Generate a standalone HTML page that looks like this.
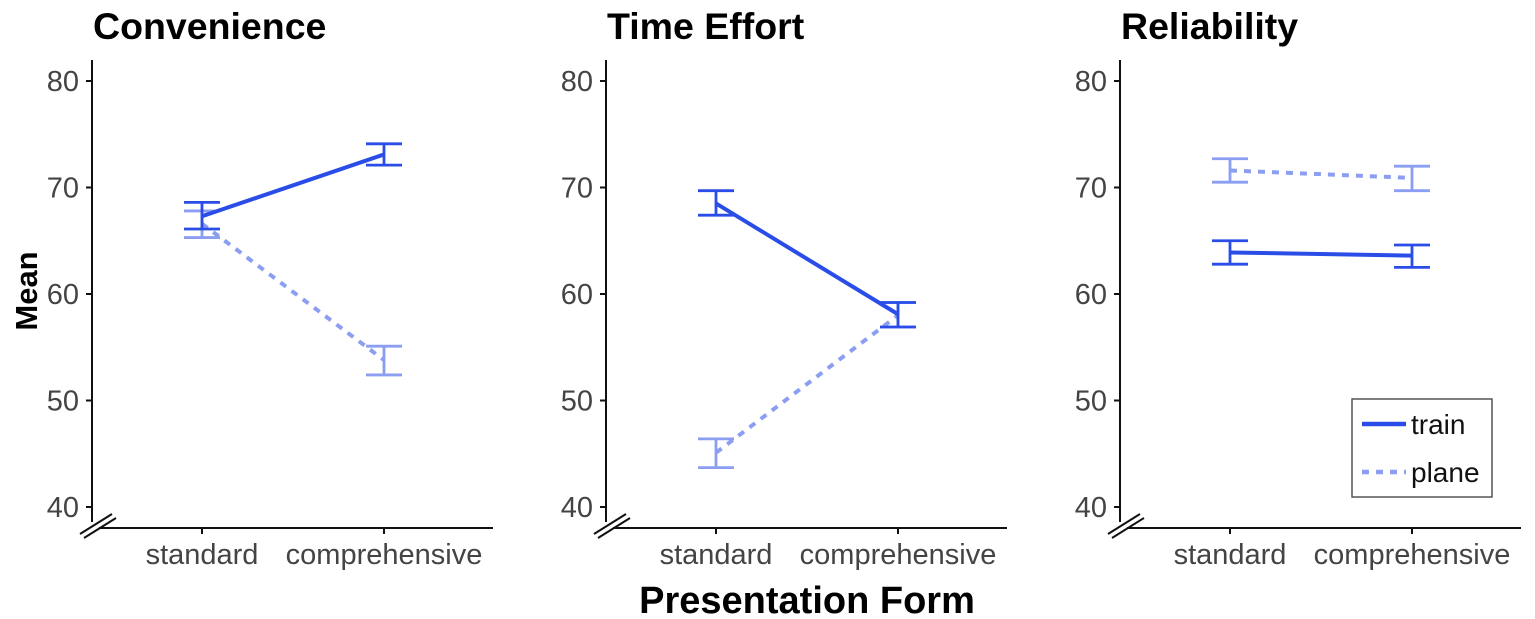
<!DOCTYPE html>
<html><head><meta charset="utf-8"><style>
html,body{margin:0;padding:0;background:#fff;}
svg{display:block;font-family:"Liberation Sans",Arial,sans-serif;}
</style></head><body>
<svg id="chart" width="1535" height="619" viewBox="0 0 1535 619">
<text x="807" y="613" font-size="38" font-weight="bold" text-anchor="middle" fill="#000">Presentation Form</text>
<text transform="translate(37,291) rotate(-90)" font-size="31" font-weight="bold" text-anchor="middle" fill="#000">Mean</text>
<g id="legend">
<rect x="1352" y="399" width="140" height="98" fill="#fff" stroke="#555" stroke-width="1.5"/>
<line x1="1362" y1="424" x2="1406" y2="424" stroke="#2a4de8" stroke-width="4.5"/>
<text x="1411" y="434" font-size="28" fill="#111">train</text>
<line x1="1362" y1="472" x2="1406" y2="472" stroke="#8c9ef2" stroke-width="4.5" stroke-dasharray="7,7"/>
<text x="1411" y="482" font-size="28" fill="#111">plane</text>
</g>
</svg>
<script>
const panelTitles = ["Convenience", "Time Effort", "Reliability"];
const categories = ["standard", "comprehensive"];
const yTicks = [40, 50, 60, 70, 80];
const trainMean = [[67.3, 73.1], [68.5, 58.1], [63.9, 63.6]];
const trainLow  = [[66.1, 72.1], [67.4, 56.9], [62.8, 62.5]];
const trainHigh = [[68.6, 74.1], [69.7, 59.2], [65.0, 64.6]];
const planeMean = [[66.6, 53.8], [45.1, 58.0], [71.6, 70.9]];
const planeLow  = [[65.3, 52.4], [43.7, 56.9], [70.5, 69.7]];
const planeHigh = [[67.8, 55.1], [46.4, 59.2], [72.7, 72.0]];

const svg = document.getElementById('chart');
const NS = 'http://www.w3.org/2000/svg';
function mk(tag, attrs, parent) {
  const e = document.createElementNS(NS, tag);
  for (const k in attrs) e.setAttribute(k, attrs[k]);
  (parent || svg).appendChild(e);
  return e;
}
const y = v => 507 - (v - 40) * 10.65;
const TRAIN = '#2a4de8', PLANE = '#8c9ef2';

panelTitles.forEach((title, p) => {
  const ox = 92 + p * 514;
  const x = i => ox + 110 + i * 182;
  const g = mk('g', {});
  
  
  const t = mk('text', {x: ox + 1, y: 39, 'font-size': 37.5, 'font-weight': 'bold', fill: '#000'}, g);
  t.textContent = title;
  
  
  const ya = mk('line', {x1: ox, y1: 60, x2: ox, y2: 522, stroke: '#111', 'stroke-width': 2}, g);
  
  
  const xa = mk('line', {x1: ox + 7, y1: 528, x2: ox + 401, y2: 528, stroke: '#111', 'stroke-width': 2}, g);
  
  
  const b1 = mk('line', {x1: ox - 12, y1: 534, x2: ox + 20, y2: 514, stroke: '#111', 'stroke-width': 2}, g);
  
  
  const b2 = mk('line', {x1: ox - 8, y1: 538, x2: ox + 24, y2: 518, stroke: '#111', 'stroke-width': 2}, g);
  
  
  yTicks.forEach(v => {
    const tk = mk('line', {x1: ox - 6, y1: y(v), x2: ox, y2: y(v), stroke: '#111', 'stroke-width': 2}, g);
    
    
    const tl = mk('text', {x: ox - 13, y: y(v) + 10, 'font-size': 29, fill: '#444', 'text-anchor': 'end'}, g);
    tl.textContent = v;
    
    
  });
  categories.forEach((c, i) => {
    const tk = mk('line', {x1: x(i), y1: 528, x2: x(i), y2: 534, stroke: '#111', 'stroke-width': 2}, g);
    
    
    const tl = mk('text', {x: x(i), y: 564, 'font-size': 29, fill: '#444', 'text-anchor': 'middle'}, g);
    tl.textContent = c;
    
    
  });
  const series = [
    {name: 'plane', m: planeMean[p], lo: planeLow[p], hi: planeHigh[p], col: PLANE, dash: '7,7'},
    {name: 'train', m: trainMean[p], lo: trainLow[p], hi: trainHigh[p], col: TRAIN, dash: null}
  ];
  series.forEach(s => {
    const ln = mk('line', {x1: x(0), y1: y(s.m[0]), x2: x(1), y2: y(s.m[1]), stroke: s.col, 'stroke-width': 4}, g);
    if (s.dash) ln.setAttribute('stroke-dasharray', s.dash);
    
    
    [0, 1].forEach(i => {
      const eb = mk('path', {d: `M${x(i)-18},${y(s.hi[i])}H${x(i)+18}M${x(i)},${y(s.hi[i])}V${y(s.lo[i])}M${x(i)-18},${y(s.lo[i])}H${x(i)+18}`, stroke: s.col, 'stroke-width': 2.8, fill: 'none'}, g);
      
      
    });
  });
});
svg.appendChild(document.getElementById('legend'));
</script>
</body></html>
